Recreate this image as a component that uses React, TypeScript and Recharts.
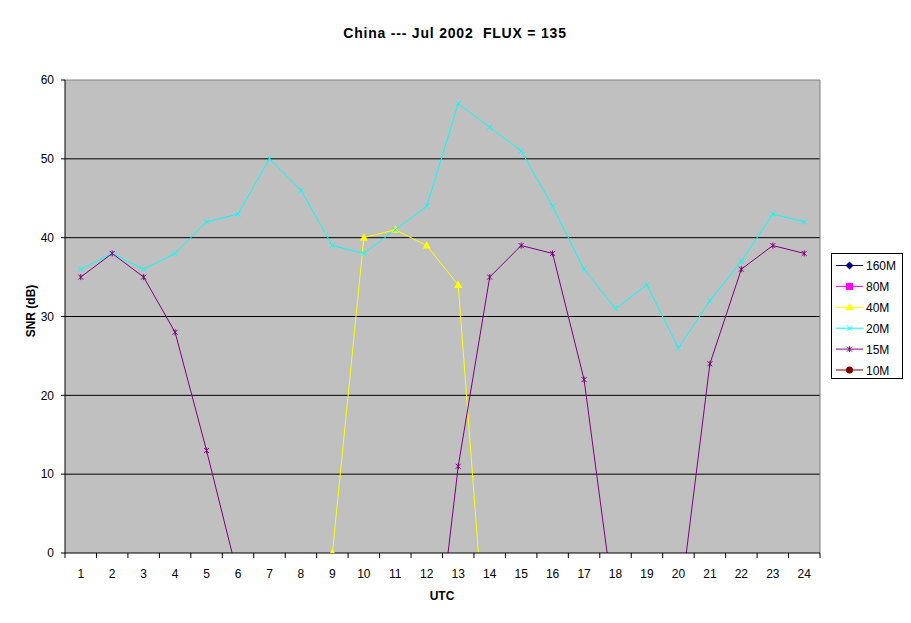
import React from "react";
import {
  CartesianGrid,
  Legend,
  Line,
  LineChart,
  ReferenceLine,
  XAxis,
  YAxis,
} from "recharts";

const hours = [1, 2, 3, 4, 5, 6, 7, 8, 9, 10, 11, 12, 13, 14, 15, 16, 17, 18, 19, 20, 21, 22, 23, 24];
const yTicks = [0, 10, 20, 30, 40, 50, 60];
const gridValues = [10, 20, 30, 40, 50];

const snr160: (number | null)[] = hours.map(() => null);
const snr80: (number | null)[] = hours.map(() => null);
const snr40: (number | null)[] = [null, null, null, null, null, null, null, null, 0, 40, 41, 39, 34, -19, null, null, null, null, null, null, null, null, null, null];
const snr20: (number | null)[] = [36, 38, 36, 38, 42, 43, 50, 46, 39, 38, 41, 44, 57, 54, 51, 44, 36, 31, 34, 26, 32, 37, 43, 42];
const snr15: (number | null)[] = [35, 38, 35, 28, 13, -3, -15, -20, -25, -25, -25, -23, 11, 35, 39, 38, 22, -8, -15, -8, 24, 36, 39, 38];
const snr10: (number | null)[] = hours.map(() => null);

const FONT = "Arial, 'Liberation Sans', sans-serif";

type Shape = "diamond" | "square" | "triangle" | "x" | "star" | "circle";

const series: { key: string; name: string; color: string; shape: Shape; values: (number | null)[] }[] = [
  { key: "m160", name: "160M", color: "#000080", shape: "diamond", values: snr160 },
  { key: "m80", name: "80M", color: "#FF00FF", shape: "square", values: snr80 },
  { key: "m40", name: "40M", color: "#FFFF00", shape: "triangle", values: snr40 },
  { key: "m20", name: "20M", color: "#00FFFF", shape: "x", values: snr20 },
  { key: "m15", name: "15M", color: "#800080", shape: "star", values: snr15 },
  { key: "m10", name: "10M", color: "#800000", shape: "circle", values: snr10 },
];

const rows = hours.map((h, i) => {
  const row: Record<string, number | null> = { utc: h };
  series.forEach((s) => {
    row[s.key] = s.values[i];
  });
  return row;
});

const xTicks = [...hours.flatMap((h) => [h - 0.5, h]), 24.5];

function Marker({ shape, cx, cy, color }: { shape: Shape; cx: number; cy: number; color: string }) {
  switch (shape) {
    case "diamond":
      return <polygon points={`${cx},${cy - 4} ${cx + 4},${cy} ${cx},${cy + 4} ${cx - 4},${cy}`} fill={color} />;
    case "square":
      return <rect x={cx - 3.5} y={cy - 3.5} width={7} height={7} fill={color} />;
    case "triangle":
      return <polygon points={`${cx},${cy - 4.5} ${cx + 4},${cy + 3} ${cx - 4},${cy + 3}`} fill={color} />;
    case "x":
      return (
        <g stroke={color} strokeWidth={1}>
          <line x1={cx - 2.5} y1={cy - 2.5} x2={cx + 2.5} y2={cy + 2.5} />
          <line x1={cx - 2.5} y1={cy + 2.5} x2={cx + 2.5} y2={cy - 2.5} />
        </g>
      );
    case "star":
      return (
        <g stroke={color} strokeWidth={1}>
          <line x1={cx - 2.5} y1={cy - 2.5} x2={cx + 2.5} y2={cy + 2.5} />
          <line x1={cx - 2.5} y1={cy + 2.5} x2={cx + 2.5} y2={cy - 2.5} />
          <line x1={cx} y1={cy - 3} x2={cx} y2={cy + 3} />
        </g>
      );
    default:
      return <circle cx={cx} cy={cy} r={3.5} fill={color} />;
  }
}

const XTick = (props: any) => {
  const { x, y, payload } = props;
  const v = payload.value;
  if (Number.isInteger(v)) {
    return (
      <text x={x} y={y + 24.5} textAnchor="middle" fontSize={12} fontFamily={FONT} fill="#000">
        {v}
      </text>
    );
  }
  return <line x1={x} x2={x} y1={y} y2={y + 5} stroke="#000" />;
};

const renderLegend = () => (
  <svg width={73} height={127} style={{ display: "block" }}>
    <rect x={0.5} y={0.5} width={71} height={125} fill="#fff" stroke="#000" />
    {series.map((s, i) => {
      const cy = 12.5 + i * 20.9;
      return (
        <g key={s.key}>
          <line x1={5} x2={32} y1={cy} y2={cy} stroke={s.color} />
          <Marker shape={s.shape} cx={18.5} cy={cy} color={s.color} />
          <text x={35} y={cy + 4.5} fontSize={12} fontFamily={FONT} fill="#000">
            {s.name}
          </text>
        </g>
      );
    })}
  </svg>
);

export default function App() {
  return (
    <div style={{ position: "relative", width: 911, height: 623, background: "#fff" }}>
      <style>{`body{margin:0}`}</style>
      <LineChart width={911} height={623} data={rows} margin={{ top: 80, right: 91, left: 5, bottom: 20 }}>
        <CartesianGrid
          vertical={false}
          horizontalValues={gridValues}
          stroke="#000"
          strokeOpacity={1}
          fill="#C0C0C0"
          fillOpacity={1}
        />
        <ReferenceLine y={60} stroke="#808080" />
        <ReferenceLine x={24.5} stroke="#808080" />
        <XAxis
          dataKey="utc"
          type="number"
          domain={[0.5, 24.5]}
          ticks={xTicks}
          interval={0}
          tick={<XTick />}
          tickLine={false}
          tickSize={0}
          tickMargin={0}
          axisLine={{ stroke: "#000" }}
          height={50}
          allowDataOverflow
        />
        <YAxis
          type="number"
          domain={[0, 60]}
          ticks={yTicks}
          interval={0}
          allowDataOverflow
          width={60}
          tickSize={4}
          tickMargin={7}
          tickLine={{ stroke: "#000" }}
          axisLine={{ stroke: "#000" }}
          tick={{ fontSize: 12, fontFamily: FONT, fill: "#000" }}
        />
        <Legend
          layout="vertical"
          align="center"
          verticalAlign="middle"
          wrapperStyle={{ left: 831, top: 253, width: 73, height: 127 }}
          content={renderLegend}
        />
        {series.map((s) => (
          <Line
            key={s.key}
            dataKey={s.key}
            name={s.name}
            type="linear"
            stroke={s.color}
            strokeWidth={1}
            isAnimationActive={false}
            activeDot={false}
            dot={(p: any) =>
              p.cy == null || p.cx == null ? (
                <g key={`${s.key}-${p.index}`} />
              ) : (
                <Marker key={`${s.key}-${p.index}`} shape={s.shape} cx={p.cx} cy={p.cy} color={s.color} />
              )
            }
          />
        ))}
      </LineChart>
      <svg width={911} height={623} style={{ position: "absolute", left: 0, top: 0, pointerEvents: "none" }}>
        <text
          x={455}
          y={37.5}
          textAnchor="middle"
          fontSize={14}
          fontWeight="bold"
          fontFamily={FONT}
          letterSpacing={0.8}
          style={{ whiteSpace: "pre" }}
        >
          China --- Jul 2002  FLUX = 135
        </text>
        <text x={442} y={599.5} textAnchor="middle" fontSize={12} fontWeight="bold" fontFamily={FONT}>
          UTC
        </text>
        <text
          x={35}
          y={311}
          textAnchor="middle"
          fontSize={12}
          fontWeight="bold"
          fontFamily={FONT}
          transform="rotate(-90 35 311)"
        >
          SNR (dB)
        </text>
      </svg>
    </div>
  );
}
